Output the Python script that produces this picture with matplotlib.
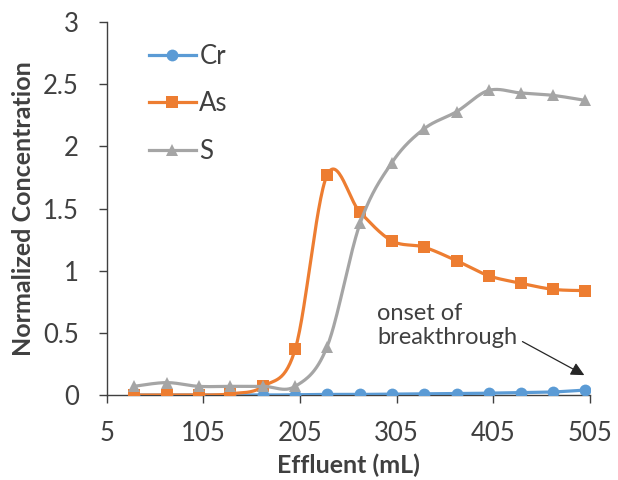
import matplotlib
matplotlib.use('Agg')
import matplotlib.pyplot as plt
import numpy as np

plt.rcParams['font.family'] = ['Lato', 'DejaVu Sans']

effluent = [33, 67, 100, 133, 167, 200, 233, 267, 300, 333, 367, 400, 433, 467, 500]
cr = [0, 0, 0, 0, 0, 0.002, 0.005, 0.005, 0.008, 0.01, 0.012, 0.015, 0.02, 0.025, 0.04]
as_ = [0, 0, 0, 0.01, 0.07, 0.37, 1.77, 1.47, 1.24, 1.19, 1.08, 0.96, 0.9, 0.85, 0.84]
s = [0.07, 0.1, 0.07, 0.07, 0.07, 0.07, 0.39, 1.38, 1.87, 2.14, 2.28, 2.45, 2.43, 2.41, 2.37]

xticks = [5, 105, 205, 305, 405, 505]
yticks = [0, 0.5, 1, 1.5, 2, 2.5, 3]

text_col = '#404040'


def smooth(x, y, n=30):
    # excel-like smoothed line: cubic bezier with catmull-rom control points
    p = np.column_stack([x, y]).astype(float)
    p = np.vstack([p[0], p, p[-1]])
    t = np.linspace(0, 1, n, endpoint=False)[:, None]
    pts = []
    for i in range(1, len(p) - 2):
        p0, p1, p2, p3 = p[i - 1], p[i], p[i + 1], p[i + 2]
        c1 = p1 + (p2 - p0) / 6
        c2 = p2 - (p3 - p1) / 6
        seg = ((1 - t) ** 3) * p1 + 3 * ((1 - t) ** 2) * t * c1 + 3 * (1 - t) * t ** 2 * c2 + t ** 3 * p2
        pts.append(seg)
    pts.append(p[-2][None, :])
    pts = np.vstack(pts)
    return pts[:, 0], pts[:, 1], list(range(0, len(pts), n))


fig = plt.figure(figsize=(6.18, 4.8), dpi=100)
ax = fig.add_axes([0.1727, 0.177, 0.7822, 0.777])

series = [('Cr', cr, '#5B9BD5', 'o', 8.5),
          ('As', as_, '#ED7D31', 's', 8),
          ('S', s, '#A5A5A5', '^', 9)]
for name, vals, col, mk, ms in series:
    xs, ys, idx = smooth(effluent, vals)
    ax.plot(xs, ys, color=col, lw=2.3, marker=mk, markersize=ms, markevery=idx,
            markeredgewidth=0, label=name, zorder=3)

ax.set_xlim(5, 505)
ax.set_ylim(0, 3)
ax.set_xticks(xticks)
ax.set_yticks(yticks)
ax.set_yticklabels(['%g' % v for v in yticks])
for sp in ['top', 'right']:
    ax.spines[sp].set_visible(False)
for sp in ['left', 'bottom']:
    ax.spines[sp].set_color(text_col)
    ax.spines[sp].set_linewidth(1.0)
ax.tick_params(axis='both', colors=text_col, labelsize=18.5, length=6, width=1.0, direction='out')
ax.tick_params(axis='y', pad=14)
ax.tick_params(axis='x', pad=13)

ax.set_xlabel('Effluent (mL)', fontsize=18, fontweight='bold', color=text_col, labelpad=5)
ax.set_ylabel('Normalized Concentration', fontsize=18, fontweight='bold', color=text_col, labelpad=6)

leg = ax.legend(loc='upper left', bbox_to_anchor=(0.088, 0.941), frameon=False,
                fontsize=18.5, handlelength=1.8, handletextpad=0.15, labelspacing=0.87,
                borderpad=0, borderaxespad=0)
for t in leg.get_texts():
    t.set_color(text_col)

ax.text(285, 0.56, 'onset of\nbreakthrough', fontsize=17, color=text_col,
        ha='left', va='center', linespacing=1.2)
ax.annotate('', xy=(499, 0.16), xytext=(435, 0.43),
            arrowprops=dict(arrowstyle='-|>', color='#262626', lw=0.9,
                            mutation_scale=20, shrinkA=0, shrinkB=0))

fig.savefig('out.png', dpi=100)
